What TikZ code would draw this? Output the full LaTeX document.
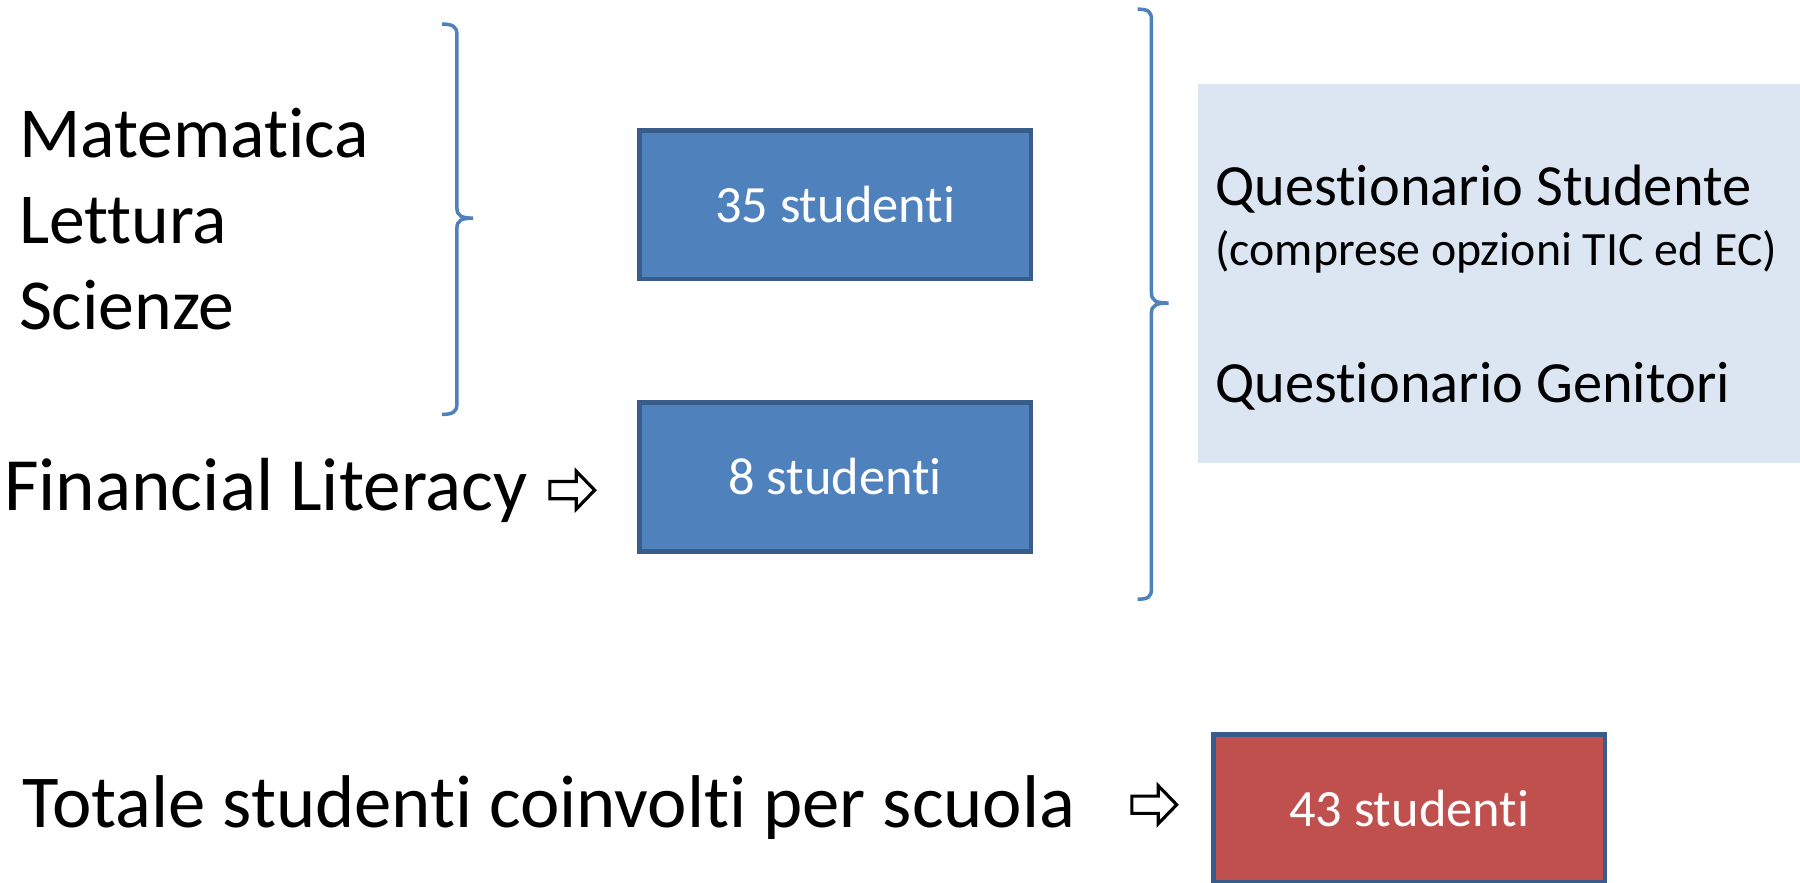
\documentclass[tikz,border=0pt]{standalone}
\usepackage{fontspec}
\setmainfont{Carlito}[Ligatures = NoCommon]
\definecolor{boxblue}{HTML}{4F81BD}
\definecolor{boxedge}{HTML}{385D8A}
\definecolor{boxred}{HTML}{C0504D}
\definecolor{paleblue}{HTML}{DCE6F2}
\begin{document}
\begin{tikzpicture}[x = 0.01148cm, y = -0.01148cm,
        subject/.style = {anchor = base west, inner sep = 0pt, font = \fontsize{20.4}{24}\selectfont},
        quest/.style = {anchor = base west, inner sep = 0pt, font = \fontsize{16.6}{20}\selectfont},
        count/.style = {draw = boxedge, line width = 1.4pt, fill = boxblue, text = white,
            minimum width = 3.915cm, minimum height = 1.481cm, font = \fontsize{14.9}{18}\selectfont},
        hollow/.style = {draw = black, fill = white, line width = 0.9pt, line join = miter},
        brace/.style = {draw = boxblue, line width = 1pt}]
        \useasboundingbox (0, 0) rectangle (1568, 769);
        \fill [paleblue] (1044, 73) rectangle (1568, 403);
        \node [subject] (mat) at (16, 137) {Matematica};
        \node [subject] (let) at (16, 212) {Lettura};
        \node [subject] (sci) at (16, 287) {Scienze};
        \node [subject, font = \fontsize{21.4}{25}\selectfont] (fin) at (3, 445) {Financial Literacy};
        \coordinate (finarrow) at (479, 427);
        \draw [hollow] (finarrow) ++(0, -7.5) -- ++(23, 0) -- ++(0, -9) -- ++(16, 16.5)
            -- ++(-16, 16.5) -- ++(0, -9) -- ++(-23, 0) -- cycle;
        \node [count] (n35) at (727.5, 178.5) {35 studenti};
        \node [count] (n8) at (727.5, 415.5) {8 studenti};
        \node [quest] (qs) at (1058, 179) {Questionario Studente};
        \node [quest, font = \fontsize{13.6}{16}\selectfont] (qopt) at (1058, 231) {(comprese opzioni TIC ed EC)};
        \node [quest] (qg) at (1058, 351) {Questionario Genitori};
        \node [subject, font = \fontsize{21.25}{25}\selectfont] (tot) at (19, 721) {Totale studenti coinvolti per scuola};
        \coordinate (totarrow) at (986, 701);
        \draw [hollow] (totarrow) ++(0, -7.5) -- ++(23, 0) -- ++(0, -9) -- ++(16, 16.5)
            -- ++(-16, 16.5) -- ++(0, -9) -- ++(-23, 0) -- cycle;
        \node [count, fill = boxred] (n43) at (1227.5, 704.5) {43 studenti};
        \draw [brace] (385, 21) .. controls (394, 21) and (398, 23) .. (398, 30) -- (398, 181)
            .. controls (398, 188) and (402, 190) .. (412, 190)
            .. controls (402, 190) and (398, 192) .. (398, 199) -- (398, 352)
            .. controls (398, 359) and (394, 361) .. (385, 361);
        \draw [brace] (991, 8) .. controls (1000, 8) and (1003, 10) .. (1003, 17) -- (1003, 255)
            .. controls (1003, 262) and (1007, 264) .. (1018, 264)
            .. controls (1007, 264) and (1003, 266) .. (1003, 273) -- (1003, 513)
            .. controls (1003, 520) and (1000, 522) .. (991, 522);
\end{tikzpicture}
\end{document}
